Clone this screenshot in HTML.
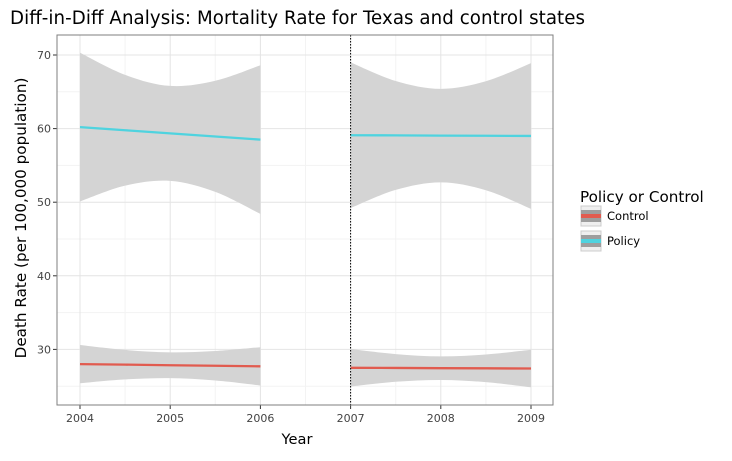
<!DOCTYPE html>
<html><head><meta charset="utf-8"><style>
body{margin:0;background:#fff;width:732px;height:456px;overflow:hidden}
svg text{font-family:"DejaVu Sans","Liberation Sans",sans-serif}
</style></head><body>
<svg id="chart" width="732" height="456">
<text x="10" y="24" font-size="18.2" textLength="575" fill="#000">Diff-in-Diff Analysis: Mortality Rate for Texas and control states</text>
<g id="plot"></g>
<text x="297" y="444" font-size="14.6" text-anchor="middle">Year</text>
<text transform="translate(26,218) rotate(-90)" font-size="15.2" text-anchor="middle">Death Rate (per 100,000 population)</text>
<g>
<text x="580" y="202" font-size="15.2">Policy or Control</text>
<g>
<rect x="581" y="206" width="20" height="20" fill="#efefef" stroke="#ccc"/>
<rect x="581" y="210" width="20" height="12" fill="#9e9e9e"/>
<rect x="581" y="214" width="20" height="4" fill="#e15b4f"/>
<text x="607" y="220" font-size="11.5">Control</text></g>
<g>
<rect x="581" y="231" width="20" height="20" fill="#efefef" stroke="#ccc"/>
<rect x="581" y="235" width="20" height="12" fill="#9e9e9e"/>
<rect x="581" y="239" width="20" height="4" fill="#4fd3df"/>
<text x="607" y="245" font-size="11.5">Policy</text></g>
</g>
</svg>
<script>
const xTicks=[2004,2005,2006,2007,2008,2009];
const yTicks=[30,40,50,60,70];
const preYears=[2004,2004.5,2005,2005.5,2006];
const postYears=[2007,2007.5,2008,2008.5,2009];
const policyPreFit=[60.2,59.78,59.35,58.93,58.5];
const policyPreUpper=[70.3,67.3,65.8,66.5,68.6];
const policyPreLower=[50.1,52.25,52.9,51.4,48.4];
const policyPostFit=[59.1,59.08,59.05,59.03,59.0];
const policyPostUpper=[69.0,66.47,65.4,66.43,68.9];
const policyPostLower=[49.2,51.67,52.7,51.63,49.1];
const controlPreFit=[28.0,27.93,27.85,27.78,27.7];
const controlPreUpper=[30.6,29.93,29.6,29.78,30.3];
const controlPreLower=[25.4,25.93,26.1,25.78,25.1];
const controlPostFit=[27.5,27.48,27.45,27.43,27.4];
const controlPostUpper=[30.05,29.36,29.05,29.31,29.95];
const controlPostLower=[24.95,25.6,25.85,25.55,24.85];
const treatYear=2007;

const L=57,T=35,R=553,B=405;
const X=v=>80+(v-2004)*90.2;
const Y=v=>55+(70-v)*7.36;
const NS="http://www.w3.org/2000/svg";
const g=document.getElementById('plot');
function mk(tag,attrs,parent){const e=document.createElementNS(NS,tag);for(const k in attrs)e.setAttribute(k,attrs[k]);(parent||g).appendChild(e);return e;}
function curve(pts){let d=`M${pts[0][0]},${pts[0][1]}`;for(let i=0;i<pts.length-1;i++){const p0=pts[Math.max(i-1,0)],p1=pts[i],p2=pts[i+1],p3=pts[Math.min(i+2,pts.length-1)];d+=` C${p1[0]+(p2[0]-p0[0])/6},${p1[1]+(p2[1]-p0[1])/6} ${p2[0]-(p3[0]-p1[0])/6},${p2[1]-(p3[1]-p1[1])/6} ${p2[0]},${p2[1]}`;}return d;}
mk('rect',{x:L,y:T,width:R-L,height:B-T,fill:'#fff'});
for(let i=0;i<xTicks.length+1;i++){const v=xTicks[0]-0.5+i;const x=X(v);if(x>L&&x<R){const l=mk('line',{x1:x,x2:x,y1:T,y2:B,stroke:'#f3f3f3','stroke-width':1});}}
for(let i=0;i<yTicks.length+1;i++){const v=yTicks[0]-5+i*10;const y=Y(v);if(y>T&&y<B){const l=mk('line',{x1:L,x2:R,y1:y,y2:y,stroke:'#f3f3f3','stroke-width':1});}}
xTicks.forEach(v=>{const x=X(v);const l=mk('line',{x1:x,x2:x,y1:T,y2:B,stroke:'#e4e4e4','stroke-width':1});
mk('line',{x1:x,x2:x,y1:B,y2:B+4,stroke:'#333'});const t=mk('text',{x:x,y:B+17,'font-size':11,'text-anchor':'middle',fill:'#444'});t.textContent=v;});
yTicks.forEach(v=>{const y=Y(v);const l=mk('line',{x1:L,x2:R,y1:y,y2:y,stroke:'#e4e4e4','stroke-width':1});
mk('line',{x1:L-4,x2:L,y1:y,y2:y,stroke:'#333'});const t=mk('text',{x:L-6,y:y+4,'font-size':11,'text-anchor':'end',fill:'#444'});t.textContent=v;});
function band(xs,up,lo,name){const a=xs.map((x,i)=>[X(x),Y(up[i])]);const b=xs.map((x,i)=>[X(x),Y(lo[i])]).reverse();
const d=curve(a)+` L${b[0][0]},${b[0][1]} `+curve(b).replace(/^M/,'L')+'Z';const p=mk('path',{d:d,fill:'#d4d4d4'});}
function line(xs,ys,color,name){const d='M'+xs.map((x,i)=>X(x)+','+Y(ys[i])).join(' L');const p=mk('path',{d:d,stroke:color,'stroke-width':2.3,fill:'none'});}
band(preYears,policyPreUpper,policyPreLower,'policy-pre-ci-band');
band(postYears,policyPostUpper,policyPostLower,'policy-post-ci-band');
band(preYears,controlPreUpper,controlPreLower,'control-pre-ci-band');
band(postYears,controlPostUpper,controlPostLower,'control-post-ci-band');
line(preYears,policyPreFit,'#4fd3df','policy-pre-line');
line(postYears,policyPostFit,'#4fd3df','policy-post-line');
line(preYears,controlPreFit,'#e15b4f','control-pre-line');
line(postYears,controlPostFit,'#e15b4f','control-post-line');
const vl=mk('line',{x1:X(treatYear),x2:X(treatYear),y1:T,y2:B,stroke:'#000','stroke-width':1,'stroke-dasharray':'1.5,1.5'});


const fr=mk('rect',{x:L,y:T,width:R-L,height:B-T,fill:'none',stroke:'#7f7f7f','stroke-width':1});


</script>
</body></html>
